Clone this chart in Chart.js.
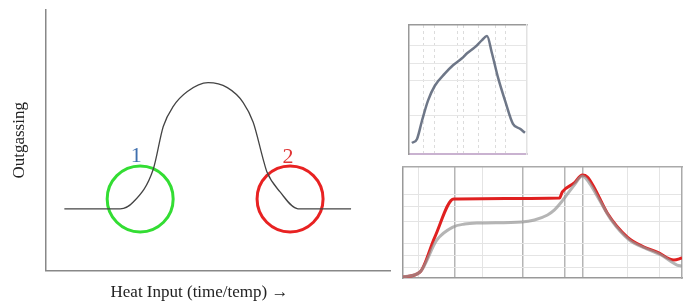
<!DOCTYPE html>
<html>
<head>
<meta charset="utf-8">
<script src="https://cdn.jsdelivr.net/npm/chart.js@4"></script>
<style>
  html, body { margin: 0; padding: 0; background: #fff; }
  body { width: 683px; height: 303px; position: relative; overflow: hidden; }
  .box { position: absolute; }
  #main-box { left: 0; top: 0; width: 400px; height: 303px; }
  #top-box { left: 399px; top: 20px; width: 132px; height: 137px; }
  #bottom-box { left: 402px; top: 166px; width: 281px; height: 113px; }
</style>
</head>
<body>
<div class="box" id="main-box"><canvas id="main-canvas"></canvas></div>
<div class="box" id="top-box"><canvas id="top-canvas"></canvas></div>
<div class="box" id="bottom-box"><canvas id="bottom-canvas"></canvas></div>
<script>
// --- main schematic: outgassing vs heat input ---
const curveX = [5.5, 21.7, 25.5, 31.3, 34.2, 37.1, 41.2, 47.2, 52.8, 57.4, 60.3, 63.2, 64.3, 68.1, 73.3, 88.7];
const curveY = [23.7, 23.7, 26.3, 38.9, 55.3, 63.0, 68.7, 72.1, 70.2, 64.5, 56.9, 42.7, 37.8, 30.2, 23.7, 23.7];
const circleX = [27.5, 71.0];
const circleY = [27.5, 27.5];
const circleColors = ['#33dd33', '#e82222'];
const markerText = ['1', '2'];
const markerX = [26.4, 70.4];
const markerY = [43.9, 43.5];
const markerColors = ['#3f6fae', '#e03535'];

// --- top-right inset: measured profile ---
const topX = [2.5, 6.8, 11.0, 16.1, 22.0, 30.5, 37.3, 44.9, 49.2, 55.9, 61.9, 66.1, 70.3, 75.4, 81.4, 88.1, 94.1, 98.3];
const topY = [8.6, 11.7, 25.8, 41.4, 53.1, 62.5, 68.8, 74.2, 78.1, 82.8, 88.3, 91.4, 78.1, 59.4, 41.4, 23.4, 19.5, 16.4];
const topGridX = [11.9, 22, 40.7, 45.8, 58.5, 72.9, 81.4];
const topGridY = [29.7, 57, 70.3, 84.4];

// --- bottom-right inset: setpoint vs actual ---
const redX = [0, 6.1, 11.4, 18.2, 56.1, 57.1, 61.4, 64.3, 66.1, 68.6, 73.2, 80.4, 86.4, 91.1, 97.1, 100];
const redY = [0.9, 5.4, 36.9, 71.2, 72.1, 77.5, 85.6, 92.8, 91.0, 81.1, 58.6, 36.9, 27.9, 23.4, 16.2, 18.0];
const grayX = [0, 6.1, 12.1, 17.9, 22.1, 26.8, 42.5, 47.1, 51.8, 54.3, 56.8, 61.4, 64.3, 66.8, 70.4, 74.6, 81.1, 87.5, 92.5, 98.2, 100];
const grayY = [0.9, 5.4, 34.2, 45.9, 48.6, 49.5, 50.5, 52.3, 56.8, 61.3, 68.5, 83.8, 91.9, 85.6, 70.3, 52.3, 34.2, 26.1, 20.7, 11.7, 10.8];
const bottomGridX = [5.4, 18.6, 28.6, 42.9, 57.9, 64.6, 80.4, 91.8];
const bottomGridXDark = [18.6, 42.9, 57.9, 64.6];
const bottomGridY = [9.9, 20.7, 31.5, 50.5, 64, 74.8];

const toPoints = (xs, ys) => xs.map((x, i) => ({ x, y: ys[i] }));

// draws the little "1" / "2" markers at data positions
const markerPlugin = {
    id: 'markers',
    afterDatasetsDraw(chart) {
        const { ctx, scales } = chart;
        ctx.save();
        ctx.font = '22px "Liberation Serif"';
        ctx.textAlign = 'center';
        ctx.textBaseline = 'middle';
        markerText.forEach((t, i) => {
            ctx.fillStyle = markerColors[i];
            ctx.fillText(t, scales.x.getPixelForValue(markerX[i]), scales.y.getPixelForValue(markerY[i]));
        });
        ctx.restore();
    }
};

const serif = { family: '"Liberation Serif", "Times New Roman", serif', size: 17 };

new Chart(document.getElementById('main-canvas'), {
    type: 'scatter',
    data: {
        datasets: [
            {
                data: toPoints(curveX, curveY),
                showLine: true,
                borderColor: '#444',
                borderWidth: 1.3,
                pointRadius: 0,
                cubicInterpolationMode: 'monotone'
            },
            {
                data: toPoints(circleX, circleY),
                showLine: false,
                pointRadius: 33,
                pointBorderWidth: 3,
                pointBorderColor: circleColors,
                pointBackgroundColor: 'rgba(0,0,0,0)',
                clip: false
            }
        ]
    },
    options: {
        responsive: true,
        maintainAspectRatio: false,
        animation: false,
        layout: { autoPadding: false, padding: { left: 9, top: 10, right: 10, bottom: 0 } },
        plugins: {
            legend: { display: false },
            tooltip: { enabled: false },
            title: {
                display: true,
                position: 'bottom',
                text: 'Heat Input (time/temp) \u2192',
                color: '#222',
                font: { ...serif, weight: 'normal' },
                padding: { top: 12, bottom: 0 }
            }
        },
        scales: {
            x: {
                min: 0, max: 100,
                ticks: { display: false },
                grid: { display: false, drawTicks: false },
                border: { color: '#888', width: 1.5 }
            },
            y: {
                min: 0, max: 100,
                ticks: { display: false },
                grid: { display: false, drawTicks: false },
                border: { color: '#888', width: 1.5 },
                title: {
                    display: true,
                    text: 'Outgassing',
                    color: '#222',
                    font: serif,
                    padding: { top: 0, bottom: 16 }
                }
            }
        }
    },
    plugins: [markerPlugin]
});

// helper for the inset axes with custom grid positions
function insetAxis(values, color, darkValues, dash) {
    const isDark = (c) => darkValues && c.tick && darkValues.includes(c.tick.value);
    return {
        min: 0, max: 100,
        ticks: { display: false },
        afterBuildTicks: (axis) => { axis.ticks = values.map(v => ({ value: v })); },
        grid: {
            drawTicks: false,
            color: (c) => isDark(c) ? '#b5b5b5' : color,
            lineWidth: (c) => isDark(c) ? 1.5 : 1
        },
        border: { color: '#999', width: 1.5, dash: [] },
        ...(dash ? { grid: { drawTicks: false, color, lineWidth: 1, tickBorderDash: dash } } : {})
    };
}

function frameAxis(position, color) {
    return {
        position,
        min: 0, max: 100,
        ticks: { display: false },
        grid: { display: false, drawTicks: false },
        border: { color: color || '#aaa', width: 1.5 }
    };
}

new Chart(document.getElementById('top-canvas'), {
    type: 'scatter',
    data: {
        datasets: [{
            data: toPoints(topX, topY),
            showLine: true,
            borderColor: 'rgba(85,95,115,0.85)',
            borderWidth: 2.5,
            pointRadius: 0,
            cubicInterpolationMode: 'monotone'
        }]
    },
    options: {
        responsive: true,
        maintainAspectRatio: false,
        animation: false,
        layout: { autoPadding: false, padding: { left: 10, top: 5, right: 4, bottom: 3 } },
        plugins: { legend: { display: false }, tooltip: { enabled: false } },
        scales: {
            x: {
                ...insetAxis(topGridX, '#dcdcdc'),
                border: { color: '#c9b2d0', width: 2, dash: [3, 3] }
            },
            y: insetAxis(topGridY, '#e6e6e6'),
            x2: frameAxis('top', '#999'),
            y2: frameAxis('right', '#e2e2e2')
        }
    }
});

new Chart(document.getElementById('bottom-canvas'), {
    type: 'scatter',
    data: {
        datasets: [
            {
                data: toPoints(grayX, grayY),
                showLine: true,
                borderColor: 'rgba(150,150,150,0.7)',
                borderWidth: 3,
                pointRadius: 0,
                cubicInterpolationMode: 'monotone'
            },
            {
                data: toPoints(redX, redY),
                showLine: true,
                borderColor: '#e02020',
                borderWidth: 3,
                pointRadius: 0,
                cubicInterpolationMode: 'monotone'
            }
        ]
    },
    options: {
        responsive: true,
        maintainAspectRatio: false,
        animation: false,
        layout: { autoPadding: false, padding: 1 },
        plugins: { legend: { display: false }, tooltip: { enabled: false } },
        scales: {
            x: insetAxis(bottomGridX, '#e4e4e4', bottomGridXDark),
            y: insetAxis(bottomGridY, '#e4e4e4'),
            x2: frameAxis('top'),
            y2: frameAxis('right')
        }
    }
});
</script>
</body>
</html>
